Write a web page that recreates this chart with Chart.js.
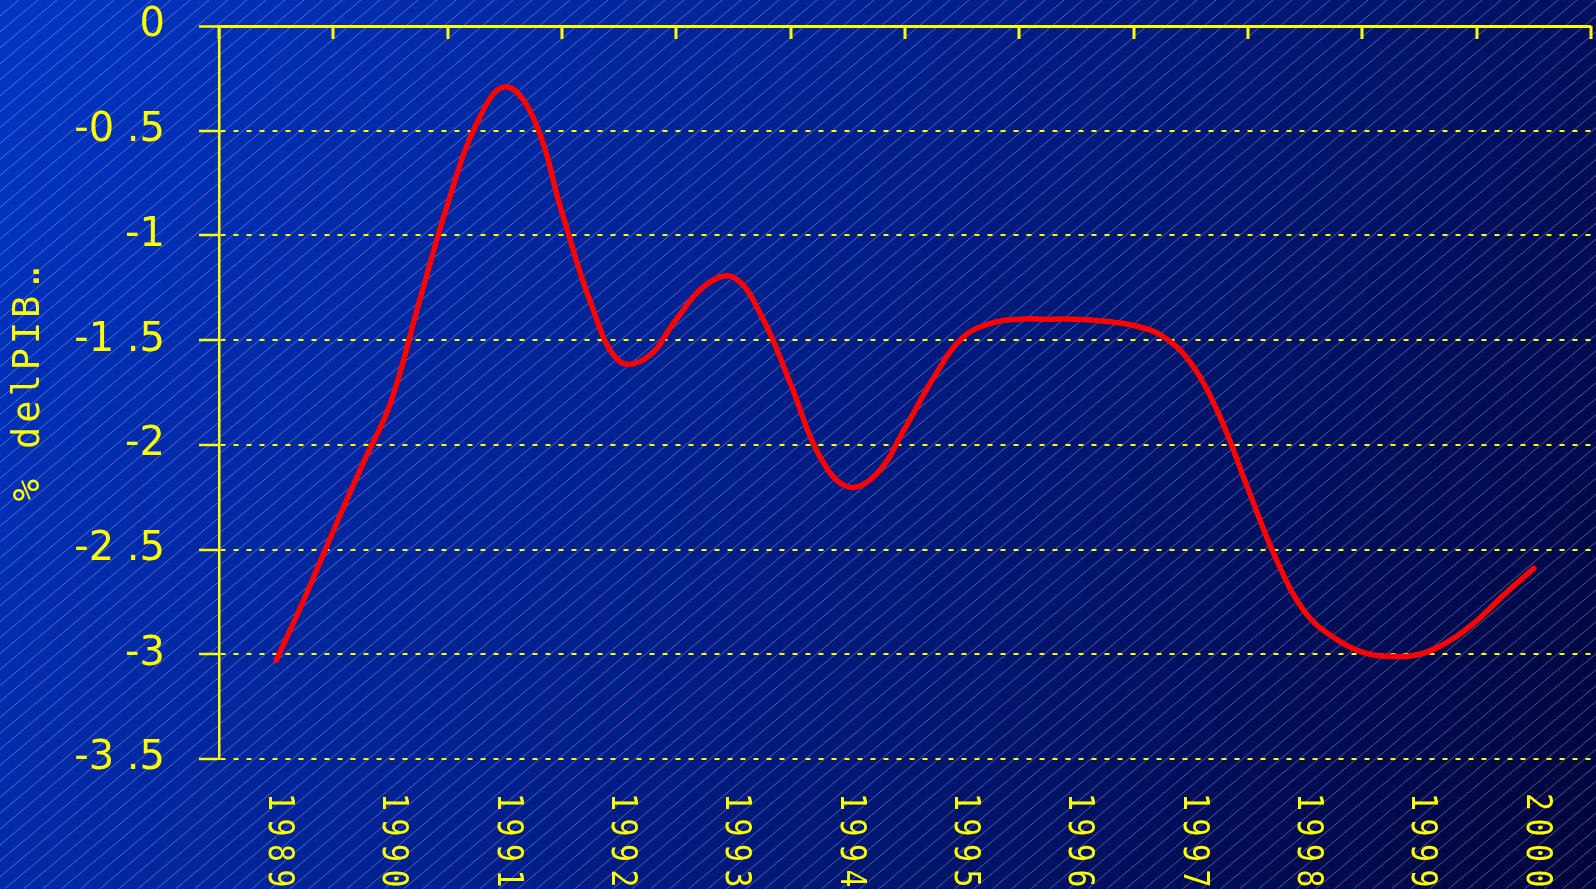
<!DOCTYPE html>
<html>
<head>
<meta charset="utf-8">
<script src="https://cdn.jsdelivr.net/npm/chart.js@4/dist/chart.umd.min.js"></script>
<style>
  html, body { margin: 0; padding: 0; background: #001a80; overflow: hidden; }
</style>
</head>
<body>
<canvas id="deficitChart" width="1596" height="889"></canvas>
<script>
// quarterly readings, % of GDP
var periods = [
    1989, 1989.25, 1989.5, 1989.75,
    1990, 1990.25, 1990.5, 1990.75,
    1991, 1991.25, 1991.5, 1991.75,
    1992, 1992.25, 1992.5, 1992.75,
    1993, 1993.25, 1993.5, 1993.75,
    1994, 1994.25, 1994.5, 1994.75,
    1995, 1995.25, 1995.5, 1995.75,
    1996, 1996.25, 1996.5, 1996.75,
    1997, 1997.25, 1997.5, 1997.75,
    1998, 1998.25, 1998.5, 1998.75,
    1999, 1999.25, 1999.5, 1999.75,
    2000
];
var deficit = [
    -3.03, -2.73, -2.41, -2.10,
    -1.80, -1.32, -0.85, -0.47,
    -0.29, -0.44, -0.89, -1.32,
    -1.60, -1.58, -1.40, -1.24,
    -1.20, -1.39, -1.71, -2.05,
    -2.20, -2.14, -1.92, -1.68,
    -1.49, -1.42, -1.40, -1.40,
    -1.40, -1.41, -1.43, -1.48,
    -1.61, -1.86, -2.21, -2.55,
    -2.80, -2.92, -2.99, -3.01,
    -3.00, -2.94, -2.84, -2.71,
    -2.59
];
var yearLabels = ['1989', '1990', '1991', '1992', '1993', '1994', '1995', '1996', '1997', '1998', '1999', '2000'];
var axisTitle = '% delPIB..';

var YELLOW = '#ffff00';

var backdrop = {
    id: 'backdrop',
    beforeDraw: function (chart) {
        var ctx = chart.ctx, w = chart.width, h = chart.height;
        ctx.save();
        var g = ctx.createLinearGradient(0, 0, w, h);
        g.addColorStop(0, '#0035c4');
        g.addColorStop(0.5, '#001d86');
        g.addColorStop(1, '#00043a');
        ctx.fillStyle = g;
        ctx.fillRect(0, 0, w, h);
        // thin diagonal hatching
        ctx.strokeStyle = 'rgba(190,205,255,0.4)';
        ctx.lineWidth = 1;
        var run = h / Math.tan(40 * Math.PI / 180);
        ctx.beginPath();
        for (var x0 = 0; x0 < w + run; x0 += 19) {
            ctx.moveTo(x0, 0);
            ctx.lineTo(x0 - run, h);
        }
        ctx.stroke();
        ctx.restore();
    }
};

var yearAxis = {
    id: 'yearAxis',
    afterDraw: function (chart) {
        var ctx = chart.ctx, xs = chart.scales.x, ys = chart.scales.y, area = chart.chartArea;
        var first = Number(yearLabels[0]);
        ctx.save();
        ctx.strokeStyle = YELLOW;
        ctx.lineWidth = 3;
        ctx.beginPath();
        for (var i = 0; i <= yearLabels.length; i++) {
            var px = Math.round(xs.getPixelForValue(first - 0.5 + i));
            ctx.moveTo(px, area.top);
            ctx.lineTo(px, area.top + 13);
        }
        ctx.stroke();

        ctx.fillStyle = YELLOW;
        ctx.textBaseline = 'middle';
        ctx.textAlign = 'left';

        // year labels, rotated clockwise
        ctx.font = '35px "DejaVu Sans Mono"';
        yearLabels.forEach(function (lab) {
            var px = xs.getPixelForValue(Number(lab));
            ctx.save();
            ctx.translate(px + 2, area.bottom + 34);
            ctx.rotate(Math.PI / 2);
            ctx.scale(0.85, 1);
            for (var c = 0; c < lab.length; c++) {
                ctx.fillText(lab[c], c * 25.5 / 0.85, 0);
            }
            ctx.restore();
        });

        // axis title, rotated counter-clockwise, spaced letters
        ctx.font = '37px "DejaVu Sans Mono"';
        var pitches = axisTitle.split('').map(function (ch) { return ch === '.' ? 9 : 26.2; });
        var total = pitches.reduce(function (a, b) { return a + b; }, 0);
        var midY = (ys.top + ys.bottom) / 2;
        ctx.save();
        ctx.translate(29, midY + total / 2 - 5);
        ctx.rotate(-Math.PI / 2);
        var pos = 0;
        for (var k = 0; k < axisTitle.length; k++) {
            ctx.fillText(axisTitle[k], pos, 0);
            pos += pitches[k];
        }
        ctx.restore();
        ctx.restore();
    }
};

new Chart(document.getElementById('deficitChart'), {
    type: 'line',
    data: {
        datasets: [{
            data: periods.map(function (p, i) { return { x: p, y: deficit[i] }; }),
            borderColor: '#ff0000',
            borderWidth: 5.5,
            borderCapStyle: 'round',
            borderJoinStyle: 'round',
            pointRadius: 0,
            tension: 0.4,
            fill: false
        }]
    },
    options: {
        responsive: false,
        animation: false,
        layout: { padding: { top: 26, right: 5, left: 0, bottom: 0 } },
        plugins: {
            legend: { display: false },
            tooltip: { enabled: false }
        },
        scales: {
            x: {
                type: 'linear',
                min: 1988.5,
                max: 2000.5,
                grid: { display: false },
                border: { display: false },
                ticks: { display: false },
                afterFit: function (s) { s.height = 130; }
            },
            y: {
                min: -3.5,
                max: 0,
                afterFit: function (s) {
                    s.width = 219;
                    s.paddingTop = 0;
                    s.paddingBottom = 0;
                },
                border: {
                    display: true,
                    color: YELLOW,
                    width: 2.5,
                    dash: function (c) {
                        return (c.type === 'tick' && c.tick && c.tick.value === 0) ? [] : [5, 8];
                    }
                },
                grid: {
                    color: YELLOW,
                    lineWidth: function (c) { return (c.tick && c.tick.value === 0) ? 3 : 2; },
                    tickLength: 20,
                    tickColor: YELLOW,
                    tickWidth: 2.5
                },
                ticks: {
                    stepSize: 0.5,
                    color: YELLOW,
                    padding: 34,
                    font: { family: 'DejaVu Sans', size: 40 },
                    callback: function (v) { return String(v).replace('.', ' .'); }
                }
            }
        }
    },
    plugins: [backdrop, yearAxis]
});
</script>
</body>
</html>
